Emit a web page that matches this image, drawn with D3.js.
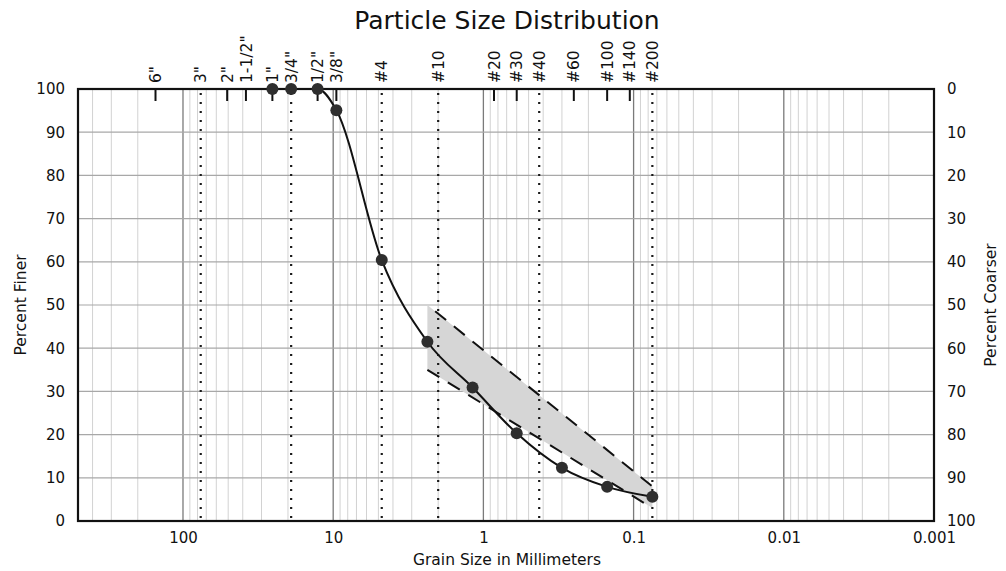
<!DOCTYPE html>
<html>
<head>
<meta charset="utf-8">
<script src="https://cdn.jsdelivr.net/npm/d3@7"></script>
<style>
  html, body { margin: 0; padding: 0; background: #fff; }
  svg { display: block; font-family: "DejaVu Sans", Verdana, sans-serif; }
</style>
</head>
<body>
<svg id="chart" width="1006" height="571"></svg>
<script>
// ---- data ----
const sieveLabels = ['6"','3"','2"','1-1/2"','1"','3/4"','1/2"','3/8"','#4','#10','#20','#30','#40','#60','#100','#140','#200'];
const sieveSizes  = [152.4, 76.2, 50.8, 38.1, 25.4, 19.05, 12.7, 9.525, 4.75, 2.0, 0.85, 0.6, 0.425, 0.25, 0.15, 0.106, 0.075];
const dottedSieves = ['3"','3/4"','#4','#10','#40','#200'];

const testSizes    = [25.4, 19.05, 12.7, 9.525, 4.75, 2.36, 1.18, 0.6, 0.3, 0.15, 0.075];
const percentFiner = [100, 100, 100, 95.1, 60.4, 41.5, 30.9, 20.3, 12.3, 7.9, 5.6];

const specSizes = [2.36, 0.075];
const specUpper = [50, 8];
const specLower = [35, 3];

const xTickValues = [100, 10, 1, 0.1, 0.01, 0.001];
const yTickValues = [0, 10, 20, 30, 40, 50, 60, 70, 80, 90, 100];

const titleText = "Particle Size Distribution";
const xTitle = "Grain Size in Millimeters";
const yTitleLeft = "Percent Finer";
const yTitleRight = "Percent Coarser";

// ---- layout ----
const L = 78, R = 934, T = 89, B = 521;
const svg = d3.select("#chart");

const x = d3.scaleLog().domain([500, 0.001]).range([L, R]);
const y = d3.scaleLinear().domain([0, 100]).range([B, T]);
const yR = d3.scaleLinear().domain([0, 100]).range([T, B]);

// grid: vertical
const gridVals = [];
for (let k = -3; k <= 2; k++) {
  for (let m = 1; m <= 9; m++) {
    const v = m * Math.pow(10, k);
    if (v >= 0.001 && v <= 500) gridVals.push({v, major: m === 1});
  }
}
const grid = svg.append("g");
grid.selectAll("line.v").data(gridVals).join("line")
  .attr("x1", d => x(d.v)).attr("x2", d => x(d.v))
  .attr("y1", T).attr("y2", B)
  .attr("stroke", d => d.major ? "#7a7a7a" : "#d2d2d2")
  .attr("stroke-width", d => d.major ? 1.3 : 1);
grid.selectAll("line.h").data(yTickValues.filter(v => v > 0 && v < 100)).join("line")
  .attr("x1", L).attr("x2", R)
  .attr("y1", d => y(d)).attr("y2", d => y(d))
  .attr("stroke", "#a8a8a8").attr("stroke-width", 1.2);

// spec band
const bandPts = specSizes.map((s, i) => [x(s), y(specUpper[i])])
  .concat(specSizes.map((s, i) => [x(s), y(specLower[i])]).reverse());
svg.append("polygon")
  .attr("points", bandPts.map(p => p.join(",")).join(" "))
  .attr("fill", "#d6d6d6");

// dotted sieve lines
const sieves = sieveLabels.map((l, i) => ({label: l, size: sieveSizes[i], dotted: dottedSieves.includes(l)}));
svg.selectAll("line.dot").data(sieves.filter(d => d.dotted)).join("line")
  .attr("x1", d => x(d.size)).attr("x2", d => x(d.size))
  .attr("y1", T + 4).attr("y2", B)
  .attr("stroke", "#1a1a1a").attr("stroke-width", 2.2)
  .attr("stroke-dasharray", "2,7");

// spec dashed lines
const specLine = d3.line().x(d => x(d[0])).y(d => y(d[1]));
svg.append("path")
  .attr("d", specLine(specSizes.map((s, i) => [s, specUpper[i]])))
  .attr("fill", "none").attr("stroke", "#111").attr("stroke-width", 2)
  .attr("stroke-dasharray", "14,10").attr("stroke-dashoffset", -10);
svg.append("path")
  .attr("d", specLine(specSizes.map((s, i) => [s, specLower[i]])))
  .attr("fill", "none").attr("stroke", "#111").attr("stroke-width", 2)
  .attr("stroke-dasharray", "14,10");

// frame
svg.append("rect").attr("x", L).attr("y", T).attr("width", R - L).attr("height", B - T)
  .attr("fill", "none").attr("stroke", "#111").attr("stroke-width", 2.2);

// top sieve ticks
svg.selectAll("line.stick").data(sieves.filter(d => !d.dotted)).join("line")
  .attr("x1", d => x(d.size)).attr("x2", d => x(d.size))
  .attr("y1", T).attr("y2", T + 12)
  .attr("stroke", "#111").attr("stroke-width", 2);

// top sieve labels
svg.selectAll("text.slab").data(sieves).join("text")
  .attr("transform", d => `translate(${x(d.size)},${T - 6}) rotate(-90)`)
  .attr("dy", "0.36em")
  .attr("text-anchor", "start")
  .attr("font-size", 15.5)
  .attr("fill", "#111")
  .text(d => d.label);

// curve & points
const testData = testSizes.map((s, i) => ({size: s, pf: percentFiner[i]}));
svg.append("path")
  .attr("d", d3.line().x(d => x(d.size)).y(d => y(d.pf)).curve(d3.curveMonotoneX)(testData))
  .attr("fill", "none").attr("stroke", "#111").attr("stroke-width", 2);
svg.selectAll("circle.pt").data(testData).join("circle")
  .attr("cx", d => x(d.size)).attr("cy", d => y(d.pf)).attr("r", 6)
  .attr("fill", "#2e2e2e");

// axes
const axB = svg.append("g").attr("transform", `translate(0,${B})`)
  .call(d3.axisBottom(x).tickValues(xTickValues).tickFormat(d => String(d)).tickSize(0).tickPadding(11));
const axL = svg.append("g").attr("transform", `translate(${L},0)`)
  .call(d3.axisLeft(y).tickValues(yTickValues).tickSize(0).tickPadding(13));
const axR = svg.append("g").attr("transform", `translate(${R},0)`)
  .call(d3.axisRight(yR).tickValues(yTickValues).tickSize(0).tickPadding(13));
[axB, axL, axR].forEach(g => {
  g.select(".domain").remove();
  g.selectAll("text").attr("font-size", 15).attr("fill", "#111")
    .attr("font-family", '"DejaVu Sans", Verdana, sans-serif');
});

// titles
svg.append("text").attr("x", 507).attr("y", 29).attr("text-anchor", "middle")
  .attr("font-size", 25).attr("fill", "#111").text(titleText);
svg.append("text").attr("x", 507).attr("y", 565).attr("text-anchor", "middle")
  .attr("font-size", 15.5).attr("fill", "#111").text(xTitle);
svg.append("text").attr("transform", `translate(26,${(T + B) / 2}) rotate(-90)`)
  .attr("text-anchor", "middle").attr("font-size", 15.5).attr("fill", "#111").text(yTitleLeft);
svg.append("text").attr("transform", `translate(996,${(T + B) / 2}) rotate(-90)`)
  .attr("text-anchor", "middle").attr("font-size", 15.5).attr("fill", "#111").text(yTitleRight);
</script>
</body>
</html>
